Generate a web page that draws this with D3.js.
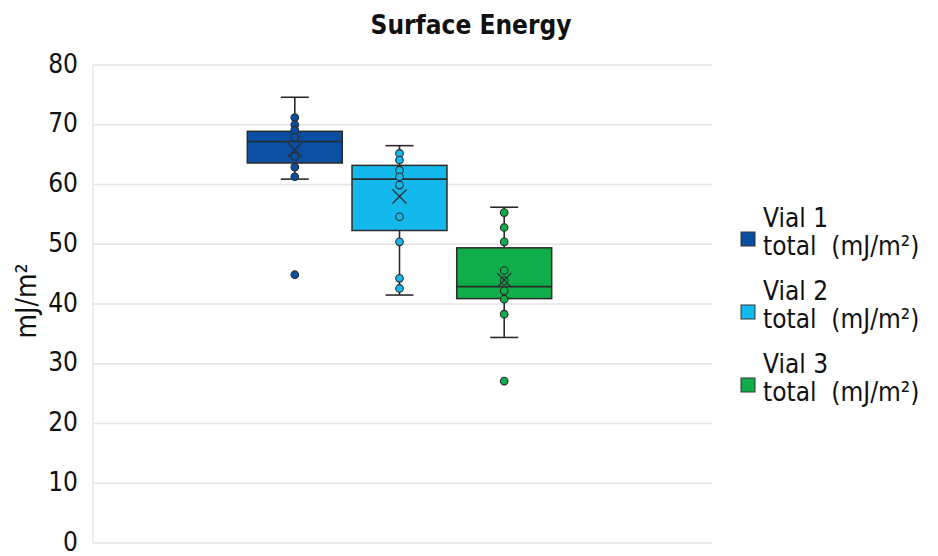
<!DOCTYPE html>
<html><head><meta charset="utf-8">
<script src="https://cdn.jsdelivr.net/npm/d3@7"></script>
<style>body{margin:0;background:#fff;}svg{display:block;}</style>
</head><body>
<svg id="c" width="938" height="556"></svg>
<script>
const series = ["Vial 1", "Vial 2", "Vial 3"];
const legendLine2 = "total  (mJ/m²)";
const colors = ["#0b4fa3", "#13b9ec", "#10ad4b"];
const whiskerLow  = [60.9, 41.5, 34.4];
const q1          = [63.6, 52.3, 40.9];
const median      = [67.2, 60.9, 42.9];
const q3          = [68.9, 63.2, 49.4];
const whiskerHigh = [74.6, 66.5, 56.2];
const means       = [65.8, 58.0, 44.0];
const points = [
  [71.2, 70.0, 69.1, 67.9, 64.7, 62.9, 61.3, 44.9],
  [65.2, 64.1, 62.4, 61.3, 59.9, 54.6, 50.4, 44.3, 42.6],
  [55.3, 52.8, 50.4, 45.6, 43.9, 42.2, 40.8, 38.3, 27.1]
];
const yTicks = [0, 10, 20, 30, 40, 50, 60, 70, 80];
const title = "Surface Energy";
const yLabel = "mJ/m²";

const svg = d3.select("#c");
const L = 93, R = 712, T = 65, B = 543;
const font = "'DejaVu Sans Condensed', 'DejaVu Sans', sans-serif";

const y = d3.scaleLinear().domain([0, 80]).range([B, T]);
const x = d3.scaleBand().domain(series).range([242.5, 556.5]).paddingInner(0.093).paddingOuter(0.046);

svg.append("g").selectAll("line").data(yTicks).join("line")
  .attr("x1", L).attr("x2", R).attr("y1", d => y(d)).attr("y2", d => y(d))
  .attr("stroke", "#e3e3ea").attr("stroke-width", 1.3);
svg.append("line").attr("x1", L).attr("x2", L).attr("y1", T).attr("y2", B)
  .attr("stroke", "#e3e3ea").attr("stroke-width", 1.3);

const yAxis = d3.axisLeft(y).tickValues(yTicks).tickSize(0).tickPadding(15);
const ga = svg.append("g").attr("transform", `translate(${L},0)`).call(yAxis);
ga.select(".domain").remove();
ga.selectAll("text").attr("font-family", font).attr("font-size", 26).attr("fill", "#111").attr("dy", "0.27em");

svg.append("text").attr("x", 471).attr("y", 34).attr("text-anchor", "middle")
  .attr("font-family", font).attr("font-weight", "bold").attr("font-size", 26).attr("fill", "#111").text(title);

svg.append("text").attr("transform", `translate(36,301) rotate(-90)`).attr("text-anchor", "middle")
  .attr("font-family", font).attr("font-size", 28).attr("fill", "#111").text(yLabel);

const stroke = "#2b2b2b";
series.forEach((s, i) => {
  const g = svg.append("g");
  const cx = x(s) + x.bandwidth() / 2;
  const cap = 14;
  g.append("line").attr("x1", cx).attr("x2", cx).attr("y1", y(whiskerHigh[i])).attr("y2", y(q3[i])).attr("stroke", stroke).attr("stroke-width", 1.6);
  g.append("line").attr("x1", cx).attr("x2", cx).attr("y1", y(q1[i])).attr("y2", y(whiskerLow[i])).attr("stroke", stroke).attr("stroke-width", 1.6);
  g.append("line").attr("x1", cx - cap).attr("x2", cx + cap).attr("y1", y(whiskerHigh[i])).attr("y2", y(whiskerHigh[i])).attr("stroke", stroke).attr("stroke-width", 1.6);
  g.append("line").attr("x1", cx - cap).attr("x2", cx + cap).attr("y1", y(whiskerLow[i])).attr("y2", y(whiskerLow[i])).attr("stroke", stroke).attr("stroke-width", 1.6);
  g.append("rect").attr("x", x(s)).attr("width", x.bandwidth()).attr("y", y(q3[i])).attr("height", y(q1[i]) - y(q3[i]))
    .attr("fill", colors[i]).attr("stroke", stroke).attr("stroke-width", 1.5);
  g.append("line").attr("x1", x(s)).attr("x2", x(s) + x.bandwidth()).attr("y1", y(median[i])).attr("y2", y(median[i])).attr("stroke", stroke).attr("stroke-width", 1.6);
  g.selectAll("circle").data(points[i]).join("circle")
    .attr("cx", cx).attr("cy", d => y(d)).attr("r", 3.8)
    .attr("fill", colors[i]).attr("stroke", stroke).attr("stroke-width", 1.1);
  const my = y(means[i]), m = 7;
  g.append("path").attr("d", `M${cx-m},${my-m}L${cx+m},${my+m}M${cx-m},${my+m}L${cx+m},${my-m}`)
    .attr("stroke", stroke).attr("stroke-width", 1.3).attr("fill", "none");
});

const legTop = [232, 305, 378];
series.forEach((s, i) => {
  const g = svg.append("g");
  g.append("rect").attr("x", 741).attr("y", legTop[i]).attr("width", 14).attr("height", 14)
    .attr("fill", colors[i]).attr("stroke", "#333").attr("stroke-width", 1);
  g.append("text").attr("x", 763).attr("y", legTop[i] - 5).attr("font-family", font).attr("font-size", 26).attr("fill", "#111").text(s);
  g.append("text").attr("x", 763).attr("y", legTop[i] + 23).attr("font-family", font).attr("font-size", 26).attr("fill", "#111").style("white-space", "pre").text(legendLine2);
});
</script>
</body></html>
